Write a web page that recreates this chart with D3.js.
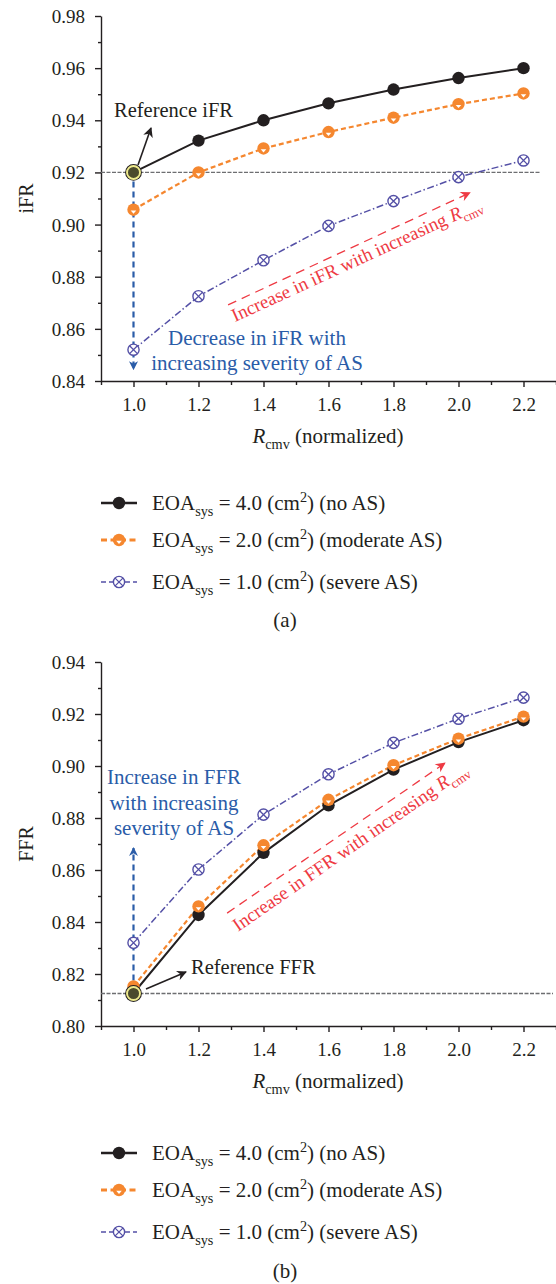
<!DOCTYPE html>
<html><head><meta charset="utf-8">
<script src="https://cdn.jsdelivr.net/npm/d3@7"></script>
<style>
body{margin:0;background:#fff}
svg{display:block}
text{font-family:"Liberation Serif","Times New Roman",serif;fill:#231f20}
</style>
</head><body><svg id="c" width="556" height="1284"></svg>
<script>
// ---------- data ----------
const xValues = [1.0, 1.2, 1.4, 1.6, 1.8, 2.0, 2.2];
const iFR_noAS     = [0.9200, 0.9322, 0.9400, 0.9465, 0.9518, 0.9562, 0.9600];
const iFR_moderate = [0.9057, 0.9200, 0.9292, 0.9355, 0.9410, 0.9462, 0.9503];
const iFR_severe   = [0.8520, 0.8725, 0.8863, 0.8995, 0.9090, 0.9182, 0.9246];
const FFR_noAS     = [0.8126, 0.8427, 0.8666, 0.8849, 0.8986, 0.9092, 0.9176];
const FFR_moderate = [0.8152, 0.8460, 0.8695, 0.8870, 0.9003, 0.9105, 0.9190];
const FFR_severe   = [0.8320, 0.8602, 0.8813, 0.8968, 0.9089, 0.9182, 0.9263];
const xTicks = [1.0, 1.2, 1.4, 1.6, 1.8, 2.0, 2.2];
const xMinorTicks = [0.9, 1.1, 1.3, 1.5, 1.7, 1.9, 2.1, 2.3];
const iFRTicks = [0.84, 0.86, 0.88, 0.90, 0.92, 0.94, 0.96, 0.98];
const iFRMinor = [0.85, 0.87, 0.89, 0.91, 0.93, 0.95, 0.97];
const FFRTicks = [0.80, 0.82, 0.84, 0.86, 0.88, 0.90, 0.92, 0.94];
const FFRMinor = [0.81, 0.83, 0.85, 0.87, 0.89, 0.91, 0.93];
const seriesNames = ["noAS", "moderate", "severe"];
const legendEOA = ["4.0", "2.0", "1.0"];
const legendDesc = ["(no AS)", "(moderate AS)", "(severe AS)"];
const iFRReference = 0.92;
const FFRReference = 0.8125;

// ---------- styles ----------
const COL = {noAS:"#231f20", moderate:"#f5872f", severe:"#5450a6"};
const DASH = {noAS:null, moderate:"5,3", severe:"7,2.5,1.5,2.5"};
const WID = {noAS:2, moderate:2.2, severe:1.5};
const BLUE = "#2a5ca8", RED = "#ee3a43";

const svg = d3.select("#c");
const defs = svg.append("defs");
function marker(id, color){
  defs.append("marker").attr("id",id).attr("viewBox","0 0 10 10").attr("refX",9).attr("refY",5)
    .attr("markerWidth",7).attr("markerHeight",7).attr("markerUnits","userSpaceOnUse").attr("orient","auto")
    .append("path").attr("d","M0,0 L10,5 L0,10 L3,5 Z").attr("fill",color);
}
marker("arrBlue", BLUE); marker("arrRed", RED); marker("arrBlack", "#231f20");
defs.select("#arrBlue").attr("markerWidth",9).attr("markerHeight",11);
defs.select("#arrRed").attr("markerWidth",12).attr("markerHeight",10);
defs.select("#arrBlack").attr("markerWidth",10).attr("markerHeight",10);

function rich(g, x, y, parts, size, anchor){
  const t = g.append("text").attr("x",x).attr("y",y).attr("font-size",size)
    .attr("text-anchor",anchor||"start");
  let off = 0;
  parts.forEach(p=>{
    const ts = t.append("tspan").text(p.t);
    let target = 0;
    if(p.sub){ target = size*0.28; ts.attr("font-size",size*0.68); }
    if(p.sup){ target = -size*0.38; ts.attr("font-size",size*0.68); }
    if(p.it) ts.attr("font-style","italic");
    ts.attr("dy", target-off); off = target;
  });
  return t;
}

function drawMarker(g, type, cx, cy){
  if(type==="noAS"){
    g.append("circle").attr("cx",cx).attr("cy",cy).attr("r",6.2).attr("fill",COL.noAS);
  } else if(type==="moderate"){
    g.append("circle").attr("cx",cx).attr("cy",cy).attr("r",6.2).attr("fill",COL.moderate);
    g.append("path").attr("d",`M${cx-2.8},${cy+0.8} L${cx+2.8},${cy+0.8} L${cx},${cy+4} Z`).attr("fill","#fff");
  } else {
    g.append("circle").attr("cx",cx).attr("cy",cy).attr("r",5.6).attr("fill","#fff")
      .attr("stroke",COL.severe).attr("stroke-width",1.4);
    const d=3.9;
    g.append("path").attr("d",`M${cx-d},${cy-d} L${cx+d},${cy+d} M${cx+d},${cy-d} L${cx-d},${cy+d}`)
      .attr("stroke",COL.severe).attr("stroke-width",1.3);
  }
}

function panel(o){
  const g = svg.append("g");
  const x = d3.scaleLinear().domain([0.9, 2.3]).range([101, 556]);
  const y = d3.scaleLinear().domain(o.yDomain).range([o.bottom, o.top]);

  // axes
  const ya = g.append("g").attr("transform","translate(101,0)")
    .call(d3.axisLeft(y).tickValues(o.yTicks).tickSize(6).tickSizeOuter(0).tickPadding(10).tickFormat(d3.format(".2f")));
  g.append("g").attr("transform","translate(101,0)")
    .call(d3.axisLeft(y).tickValues(o.yMinor).tickSize(3).tickFormat(""))
    .call(s=>s.select(".domain").remove());
  g.append("g").attr("transform",`translate(0,${o.bottom})`)
    .call(d3.axisBottom(x).tickValues(xTicks).tickSize(6).tickSizeOuter(0).tickPadding(11).tickFormat(d3.format(".1f")));
  g.append("g").attr("transform",`translate(0,${o.bottom})`)
    .call(d3.axisBottom(x).tickValues(xMinorTicks).tickSize(4).tickFormat(""))
    .call(s=>s.select(".domain").remove());
  g.selectAll(".domain,.tick line").attr("stroke","#231f20").attr("stroke-width",1.4);
  g.selectAll(".tick text").attr("font-size",19).attr("font-family",'"Liberation Serif",serif').attr("fill","#231f20");
  ya.selectAll(".tick text").attr("dy","0.34em");

  // axis titles
  g.append("text").attr("transform",`translate(33,${(o.top+o.bottom)/2}) rotate(-90)`)
    .attr("text-anchor","middle").attr("font-size",20).text(o.yLabel);
  rich(g, 328, o.bottom+62, [{t:"R",it:true},{t:"cmv",sub:true},{t:" (normalized)"}], 21, "middle");

  // reference dashed line
  g.append("line").attr("x1",x(0.9)).attr("x2",o.refEnd).attr("y1",y(o.ref)).attr("y2",y(o.ref))
    .attr("stroke","#6d6e71").attr("stroke-width",1.3).attr("stroke-dasharray","4,1.5");

  // blue vertical arrow
  g.append("line").attr("x1",x(1.0)).attr("x2",x(1.0))
    .attr("y1",y(o.blue[0])).attr("y2",y(o.blue[1]))
    .attr("stroke",BLUE).attr("stroke-width",2.2).attr("stroke-dasharray","6,4")
    .attr("marker-end","url(#arrBlue)");

  // red diagonal arrow
  g.append("line").attr("x1",x(o.red[0])).attr("y1",y(o.red[1])).attr("x2",x(o.red[2])).attr("y2",y(o.red[3]))
    .attr("stroke",RED).attr("stroke-width",1.3).attr("stroke-dasharray","9,6")
    .attr("marker-end","url(#arrRed)");

  // series
  const line = d3.line().x((d,i)=>x(xValues[i])).y(d=>y(d));
  o.order.forEach(k=>{
    g.append("path").attr("d",line(o.data[k])).attr("fill","none")
      .attr("stroke",COL[k]).attr("stroke-width",WID[k]).attr("stroke-dasharray",DASH[k]);
  });
  o.order.forEach(k=>{
    o.data[k].forEach((v,i)=>drawMarker(g,k,x(xValues[i]),y(v)));
  });

  // highlighted reference point
  const hx = x(1.0), hy = y(o.ref);
  g.append("circle").attr("cx",hx).attr("cy",hy).attr("r",8.4).attr("fill","#231f20");
  g.append("circle").attr("cx",hx).attr("cy",hy).attr("r",6.5).attr("fill","#4b4a2c")
    .attr("stroke","#eeea8c").attr("stroke-width",1.9);

  // reference label with arrow
  g.append("line").attr("x1",o.refArrow[0]).attr("y1",o.refArrow[1]).attr("x2",o.refArrow[2]).attr("y2",o.refArrow[3])
    .attr("stroke","#231f20").attr("stroke-width",1.6).attr("marker-end","url(#arrBlack)");
  g.append("text").attr("x",o.refText[0]).attr("y",o.refText[1]).attr("font-size",20.5).text(o.refLabel);

  // blue text
  o.blueText.forEach((s,i)=>{
    g.append("text").attr("x",o.blueTextPos[0]).attr("y",o.blueTextPos[1]+i*o.blueTextPos[2])
      .attr("text-anchor","middle").attr("font-size",21).style("fill",BLUE).text(s);
  });

  // red rotated text
  const rg = g.append("g").attr("transform",`translate(${o.redText[0]},${o.redText[1]}) rotate(${o.redText[2]})`);
  const rt = rich(rg, 0, 0, [{t:o.redLabel},{t:"R",it:true},{t:"cmv",sub:true}], o.redSize, "start");
  rt.selectAll("tspan").style("fill",RED);
  rt.style("fill",RED);

  // legend
  const lg = g.append("g");
  seriesNames.forEach((k,i)=>{
    const ly = o.legendY[i];
    lg.append("line").attr("x1",101).attr("x2",137).attr("y1",ly).attr("y2",ly)
      .attr("stroke",COL[k]).attr("stroke-width",k==="noAS"?2.6:(k==="moderate"?2.8:1.5))
      .attr("stroke-dasharray",k==="noAS"?null:(k==="moderate"?"6,3.5":"5,3"));
    drawMarker(lg,k,119,ly);
    rich(lg,152,ly+7,[{t:"EOA"},{t:"sys",sub:true},{t:" = "+legendEOA[i]+" (cm"},{t:"2",sup:true},{t:") "+legendDesc[i]}],21,"start");
  });
  g.append("text").attr("x",285).attr("y",o.caption).attr("text-anchor","middle").attr("font-size",21).text(o.captionText);
}

panel({
  top:16, bottom:381, yDomain:[0.84,0.98], yTicks:iFRTicks, yMinor:iFRMinor, yLabel:"iFR",
  ref:iFRReference, refEnd:540,
  data:{noAS:iFR_noAS, moderate:iFR_moderate, severe:iFR_severe}, order:["severe","moderate","noAS"],
  blue:[0.9165, 0.8445],
  red:[1.291, 0.8692, 2.035, 0.9122],
  refArrow:[138, 165, 151, 128], refText:[114, 117], refLabel:"Reference iFR",
  blueText:["Decrease in iFR with","increasing severity of AS"], blueTextPos:[257, 345, 25],
  redText:[235, 322, -24.6], redSize:18.8, redLabel:"Increase in iFR with increasing ",
  legendY:[503, 540, 582], caption:627, captionText:"(a)"
});

panel({
  top:662, bottom:1026, yDomain:[0.80,0.94], yTicks:FFRTicks, yMinor:FFRMinor, yLabel:"FFR",
  ref:FFRReference, refEnd:553,
  data:{noAS:FFR_noAS, moderate:FFR_moderate, severe:FFR_severe}, order:["noAS","moderate","severe"],
  blue:[0.8175, 0.8685],
  red:[1.288, 0.8434, 1.958, 0.9011],
  refArrow:[146, 989, 186, 972], refText:[191, 974], refLabel:"Reference FFR",
  blueText:["Increase in FFR","with increasing","severity of AS"], blueTextPos:[174, 784, 25.5],
  redText:[238, 932, -34.7], redSize:19, redLabel:"Increase in FFR with increasing ",
  legendY:[1153, 1190, 1232], caption:1278, captionText:"(b)"
});
</script>
</body></html>
